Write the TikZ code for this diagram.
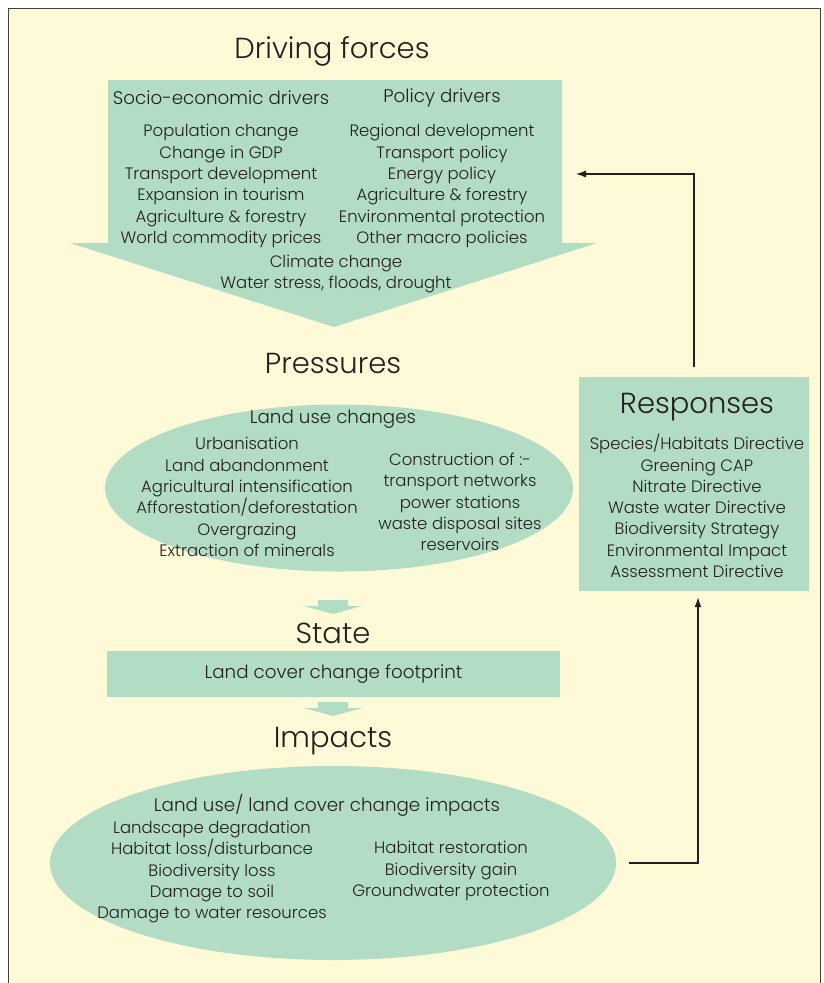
\documentclass[tikz,border=0pt]{standalone}
\usepackage{fontspec}
\setmainfont{Poppins}[UprightFont=* Light]
\usetikzlibrary{shapes.geometric,arrows.meta}
\definecolor{paper}{HTML}{FEF9D7}
\definecolor{mint}{HTML}{B2DCC3}
\definecolor{ink}{HTML}{231F20}
\tikzset{flowdown/.pic={\fill[mint] (-15,0) -- (15,0) -- (15,6) -- (29,6) -- (0,14) -- (-29,6) -- (-15,6) -- cycle;}}

\begin{document}
\begin{tikzpicture}[x=1pt, y=-1pt, text=ink,
	every node/.style={inner sep=0pt, align=center, font=\fontsize{16.5}{21.3}\selectfont},
	head/.style={font=\fontsize{29}{35}\selectfont},
	subhead/.style={font=\fontsize{18.3}{22}\selectfont},
	panel/.style={fill=mint},
	link/.style={draw=ink, line width=1.2pt, -{Latex[length=10pt,width=7pt]}}]
	\useasboundingbox (0,0) rectangle (823,983);
	\fill[white] (0,0) rectangle (823,983);
	\fill[paper] (8,8) rectangle (820,983);
	\draw[black!75, line width=0.9pt] (8,983) -- (8,8) -- (820,8) -- (820,983);
	% driving forces
	\fill[mint] (108,80) -- (562,80) -- (562,243) -- (597,243) -- (334,327) -- (70,243) -- (108,243) -- cycle;
	\node[head] (drive) at (332,51) {Driving forces};
	\node[subhead] (socio) at (221,98) {Socio-economic drivers};
	\node[subhead] (policy) at (442,98) {Policy drivers};
	\node (socioList) at (221,186) {Population change\\Change in GDP\\Transport development\\Expansion in tourism\\Agriculture \& forestry\\World commodity prices};
	\node (policyList) at (442,186) {Regional development\\Transport policy\\Energy policy\\Agriculture \& forestry\\Environmental protection\\Other macro policies};
	\node (climate) at (336,274) {Climate change\\Water stress, floods, drought};
	% pressures
	\node[head] (press) at (333,363) {Pressures};
	\node[ellipse, panel, minimum width=468, minimum height=167] (pressOval) at (339,488) {};
	\node[subhead] (landUse) at (333,419) {Land use changes};
	\node (pressLeft) at (247,497) {Urbanisation\\Land abandonment\\Agricultural intensification\\Afforestation/deforestation\\Overgrazing\\Extraction of minerals};
	\node (pressRight) at (460,502) {Construction of :-\\transport networks\\power stations\\waste disposal sites\\reservoirs};
	% state
	\pic at (333,600) {flowdown};
	\node[head] (state) at (333,633) {State};
	\node[panel, subhead, minimum width=453, minimum height=46] (stateBox) at (333.5,674) {Land cover change footprint};
	% impacts
	\pic at (333,702) {flowdown};
	\node[head] (impacts) at (333,741) {Impacts};
	\node[ellipse, panel, minimum width=566, minimum height=194] (impOval) at (333,863) {};
	\node[subhead] (lulc) at (327,805) {Land use/ land cover change impacts};
	\node (impLeft) at (212,872) {Landscape degradation\\Habitat loss/disturbance\\Biodiversity loss\\Damage to soil\\Damage to water resources};
	\node (impRight) at (451,871) {Habitat restoration\\Biodiversity gain\\Groundwater protection};
	% responses
	\node[panel, minimum width=230, minimum height=214] (resp) at (694,484) {};
	\node[head] (respTitle) at (697,407) {Responses};
	\node (respList) at (697,506) {Species/Habitats Directive\\Greening CAP\\Nitrate Directive\\Waste water Directive\\Biodiversity Strategy\\Environmental Impact\\Assessment Directive};
	\coordinate (driveIn) at (576,174);
	\draw[link] ([yshift=10pt]resp.north) |- (driveIn);
	\draw[link] ([xshift=13pt]impOval.east) -| ([xshift=4pt,yshift=-6pt]resp.south);
\end{tikzpicture}
\end{document}
